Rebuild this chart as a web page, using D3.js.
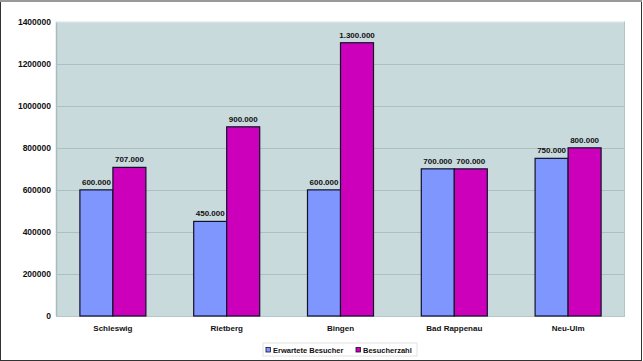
<!DOCTYPE html>
<html><head><meta charset="utf-8">
<script src="https://cdn.jsdelivr.net/npm/d3@7"></script>
<style>body{margin:0;background:#fff}svg{display:block}text{font-family:"Liberation Sans",Arial,sans-serif;font-weight:bold;fill:#111}</style>
</head><body>
<script>
const categories = ["Schleswig","Rietberg","Bingen","Bad Rappenau","Neu-Ulm"];
const seriesNames = ["Erwartete Besucher","Besucherzahl"];
const expected = [600000,450000,600000,700000,750000];
const actual = [707000,900000,1300000,700000,800000];
const yTicks = [0,200000,400000,600000,800000,1000000,1200000,1400000];
const colors = ["#8096ff","#cc00bb"];

(function(){
const W=643,H=361;
const svg=d3.select("body").append("svg").attr("width",W).attr("height",H);
svg.append("rect").attr("x",0.5).attr("y",0.5).attr("width",W-2).attr("height",H-1).attr("fill","#fff").attr("stroke","#333");
svg.append("line").attr("x1",0).attr("x2",W-1).attr("y1",1).attr("y2",1).attr("stroke","#999").attr("stroke-width",2);

const pL=56,pR=625,pT=21.7,pB=316;
const x=d3.scaleBand().domain(categories).range([pL,pR]).paddingInner(0.42).paddingOuter(0.21);
const xs=d3.scaleBand().domain([0,1]).range([0,x.bandwidth()]);
const y=d3.scaleLinear().domain([0,1400000]).range([pB,pT]);

svg.append("rect").attr("x",pL).attr("y",pT).attr("width",pR-pL).attr("height",pB-pT).attr("fill","#c9dadd");
svg.append("line").attr("x1",pL+0.5).attr("x2",pL+0.5).attr("y1",pT).attr("y2",pB).attr("stroke","#aabbbe").attr("stroke-width",1.5);
svg.append("line").attr("x1",pL).attr("x2",pR).attr("y1",pT+0.5).attr("y2",pT+0.5).attr("stroke","#dde6e8");
svg.append("line").attr("x1",pR-0.5).attr("x2",pR-0.5).attr("y1",pT).attr("y2",pB).attr("stroke","#b3c4c7");

const gy=svg.append("g").attr("transform",`translate(${pL},0)`)
  .call(d3.axisLeft(y).tickValues(yTicks).tickSize(0).tickPadding(5).tickFormat(d3.format("d")));
gy.select(".domain").remove();
gy.selectAll("text").style("font-size","8.5px").style("font-family","'Liberation Sans',Arial,sans-serif").style("font-weight","bold").attr("fill","#111");
svg.append("g").selectAll("line").data(yTicks.filter(d=>d>0&&d<1400000)).join("line")
  .attr("x1",pL).attr("x2",pR).attr("y1",d=>Math.round(y(d))+0.5).attr("y2",d=>Math.round(y(d))+0.5)
  .attr("stroke","#aebfc2");
svg.append("line").attr("x1",pL).attr("x2",pR).attr("y1",pB+0.5).attr("y2",pB+0.5).attr("stroke","#b7c6c9");

const series=[expected,actual];
const fmt=v=>d3.format(",")(v).replace(/,/g,".");
series.forEach((vals,si)=>{
  const g=svg.append("g");
  g.selectAll("rect").data(vals).join("rect")
    .attr("x",(d,i)=>x(categories[i])+xs(si)).attr("width",xs.bandwidth())
    .attr("y",d=>y(d)).attr("height",d=>pB-y(d))
    .attr("fill",colors[si]).attr("stroke","#10102a").attr("stroke-width",1.2);
  g.selectAll("text").data(vals).join("text")
    .attr("x",(d,i)=>x(categories[i])+xs(si)+xs.bandwidth()/2).attr("y",d=>y(d)-5)
    .attr("text-anchor","middle").style("font-size","8px").text(d=>fmt(d));
});

const gx=svg.append("g").attr("transform",`translate(0,${pB})`).call(d3.axisBottom(x).tickSize(0).tickPadding(9));
gx.select(".domain").remove();
gx.selectAll("text").style("font-size","8px").style("font-family","'Liberation Sans',Arial,sans-serif").style("font-weight","bold").attr("fill","#111");

const lg=svg.append("g");
lg.append("rect").attr("x",263).attr("y",343).attr("width",154).attr("height",13).attr("fill","#fff").attr("stroke","#e2e2e2");
const lx=[266,356];
seriesNames.forEach((n,i)=>{
  lg.append("rect").attr("x",lx[i]).attr("y",347.5).attr("width",4.5).attr("height",4.5).attr("fill",colors[i]).attr("stroke","#10102a").attr("stroke-width",0.8);
  lg.append("text").attr("x",lx[i]+7).attr("y",353.3).style("font-size","7.5px").text(n);
});
})();
</script>
</body></html>
